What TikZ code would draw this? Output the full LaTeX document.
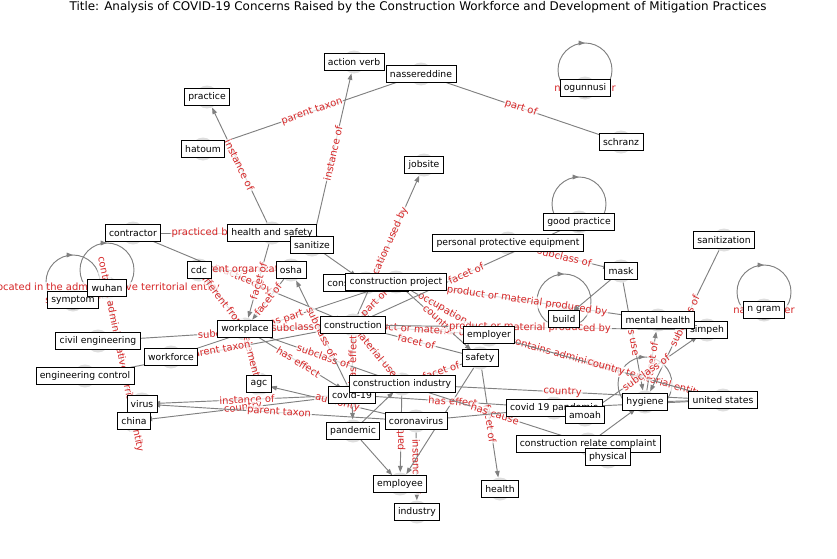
\documentclass[tikz,border=0pt]{standalone}
\usepackage{fontspec}
\setmainfont{DejaVu Sans}
\usetikzlibrary{arrows.meta, backgrounds, calc, decorations.markings, positioning}
\definecolor{labred}{RGB}{214,39,40}
\definecolor{edgegray}{RGB}{128,128,128}
\definecolor{dotgray}{RGB}{222,222,222}

\begin{document}
\begin{tikzpicture}[x=0.03cm, y=-0.03cm, >={Triangle[length=5.5pt,width=4pt]},
	box/.style={draw, rectangle, fill=white, line width=0.6pt, inner xsep=3.3pt, inner ysep=0pt, minimum height=15pt, font=\fontsize{7.9}{9}\selectfont},
	rel/.style={->, draw=edgegray, line width=0.8pt, shorten >=10pt, shorten <=10pt},
	tag/.style={font=\fontsize{8.5}{9}\selectfont, text=labred, fill=white, fill opacity=0.75, text opacity=1, inner sep=0.8pt, rounded corners=2pt},
	lab/.style={tag, midway, sloped},
	selfloop/.style={draw=edgegray, line width=0.8pt, postaction={decorate}, decoration={markings, mark=at position 0.5 with {\arrow{Triangle[length=5.5pt,width=4pt]}}}}]
	\useasboundingbox (0,0) rectangle (837,559);
	
	\node[font=\fontsize{10.2}{12}\selectfont] (title) at (418,7) {Title: Analysis of COVID-19 Concerns Raised by the Construction Workforce and Development of Mitigation Practices};
	
	% Nodes
	\node[box] (actionverb) at (354,62) {action verb};
	\node[box] (nassereddine) at (421,74) {nassereddine};
	\node[box] (ogunnusi) at (585,88) {ogunnusi};
	\node[box] (practice) at (207,97) {practice};
	\node[box] (hatoum) at (203,149) {hatoum};
	\node[box] (schranz) at (621,142) {schranz};
	\node[box] (jobsite) at (424,165) {jobsite};
	\node[box] (goodpractice) at (579,222) {good practice};
	\node[box] (contractor) at (133,233) {contractor};
	\node[box] (healthsafety) at (272,233) {health and safety};
	\node[box] (sanitization) at (724,240) {sanitization};
	\node[box] (ppe) at (508,243) {personal protective equipment};
	\node[box] (sanitize) at (312,245) {sanitize};
	\node[box] (cdc) at (199,270) {cdc};
	\node[box] (osha) at (291,270) {osha};
	\node[box] (mask) at (621,271) {mask};
	\node[box] (constsite) at (366,283) {construction site};
	\node[box] (constproject) at (396,282) {construction project};
	\node[box] (symptom) at (73,300) {symptom};
	\node[box] (wuhan) at (107,288) {wuhan};
	\node[box] (ngram) at (764,310) {n gram};
	\node[box] (build) at (564,319) {build};
	\node[box] (simpeh) at (707,330) {simpeh};
	\node[box] (mentalhealth) at (658,320) {mental health};
	\node[box] (civileng) at (98,341) {civil engineering};
	\node[box] (workplace) at (245,329) {workplace};
	\node[box] (construction) at (353,325) {construction};
	\node[box] (safety) at (480,358) {safety};
	\node[box] (employer) at (489,335) {employer};
	\node[box] (workforce) at (171,357) {workforce};
	\node[box] (engcontrol) at (85,376) {engineering control};
	\node[box] (agc) at (259,384) {agc};
	\node[box] (covid19) at (352,395) {covid-19};
	\node[box] (constindustry) at (402,384) {construction industry};
	\node[box] (virus) at (142,404) {virus};
	\node[box] (covidpandemic) at (554,408) {covid 19 pandemic};
	\node[box] (amoah) at (585,415) {amoah};
	\node[box] (hygiene) at (645,402) {hygiene};
	\node[box] (unitedstates) at (723,400) {united states};
	\node[box] (china) at (134,421) {china};
	\node[box] (coronavirus) at (416,421) {coronavirus};
	\node[box] (pandemic) at (353,431) {pandemic};
	\node[box] (complaint) at (588,444) {construction relate complaint};
	\node[box] (physical) at (608,457) {physical};
	\node[box] (employee) at (400,484) {employee};
	\node[box] (health) at (500,489) {health};
	\node[box] (industry) at (417,512) {industry};
	
	\begin{scope}[on background layer]
		\foreach \n in {actionverb,nassereddine,ogunnusi,practice,hatoum,schranz,jobsite,goodpractice,contractor,healthsafety,sanitization,ppe,sanitize,cdc,osha,mask,constsite,constproject,symptom,wuhan,ngram,build,simpeh,mentalhealth,civileng,workplace,construction,safety,employer,workforce,engcontrol,agc,covid19,constindustry,virus,covidpandemic,amoah,hygiene,unitedstates,china,coronavirus,pandemic,complaint,physical,employee,health,industry}
		\fill[dotgray] (\n.center) circle[radius=11.5];
		
		% Self loops
		\foreach \n in {ogunnusi,goodpractice,build,hygiene,ngram,symptom,wuhan}
		\draw[selfloop] ($(\n.center)+(0,9)$) arc[start angle=90, end angle=450, radius=27];
		\node[tag] at (ogunnusi.center) {named after};
		\node[tag] at (ngram.center) {named after};
		\node[tag] at (symptom.center) {subclass of};
		\node[tag] at (wuhan.center) {located in the administrative territorial entity};
		
		% Arrows
		\draw[rel] (hatoum.center) -- node[lab] {parent taxon} (nassereddine.center);
		\draw[rel] (nassereddine.center) -- node[lab] {part of} (schranz.center);
		\draw[rel] (healthsafety.center) -- node[lab] {instance of} (practice.center);
		\draw[rel] (sanitize.center) -- node[lab] {instance of} (actionverb.center);
		\draw[rel] (construction.center) -- node[lab] {location used by} (jobsite.center);
		\draw[rel] (contractor.center) -- node[lab] {practiced by} (healthsafety.center);
		\draw[rel] (contractor.center) -- node[lab] {practiced by} (construction.center);
		\draw[rel] (osha.center) -- node[lab] {parent organization} (cdc.center);
		\draw[rel] (healthsafety.center) -- node[lab] {facet of} (workplace.center);
		\draw[rel] (osha.center) -- node[lab] {facet of} (workplace.center);
		\draw[rel] (workplace.center) -- node[lab] {different from} (cdc.center);
		\draw[rel] (workplace.center) -- node[lab] {element} (agc.center);
		\draw[rel] (civileng.center) -- node[lab] {subclass of} (construction.center);
		\draw[rel] (engcontrol.center) -- node[lab] {parent taxon} (construction.center);
		\draw[rel] (workforce.center) -- node[lab] {has part} (constproject.center);
		\draw[rel] (workplace.center) -- node[lab] {subclass of} (construction.center);
		\draw[rel] (china.center) -- node[lab] {contains administrative territorial entity} (wuhan.center);
		\draw[rel] (construction.center) -- node[lab] {facet of} (safety.center);
		\draw[rel] (construction.center) -- node[lab] {product or material used} (employer.center);
		\draw[rel] (constproject.center) -- node[lab] {occupation} (employer.center);
		\draw[rel] (constproject.center) -- node[lab] {country} (safety.center);
		\draw[rel] (covid19.center) -- node[lab] {has effect} (construction.center);
		\draw[rel] (construction.center) -- node[lab] {material used} (constindustry.center);
		\draw[rel] (constproject.center) -- node[lab] {part of} (construction.center);
		\draw[rel] (workplace.center) -- node[lab] {has effect} (covid19.center);
		\draw[rel] (workplace.center) -- node[lab] {subclass of} (constindustry.center);
		\draw[rel] (covid19.center) -- node[lab] {subclass of} (osha.center);
		\draw[rel] (goodpractice.center) -- node[lab] {facet of} (construction.center);
		\draw[rel] (constproject.center) -- node[lab] {product or material produced by} (mentalhealth.center);
		\draw[rel] (construction.center) -- node[lab] {product or material produced by} (simpeh.center);
		\draw[rel] (sanitize.center) -- (constsite.center);
		\draw[rel] (covid19.center) -- node[lab] {instance of} (virus.center);
		\draw[rel] (covid19.center) -- node[lab] {country} (china.center);
		\draw[rel] (coronavirus.center) -- node[lab] {parent taxon} (virus.center);
		\draw[rel] (coronavirus.center) -- node[lab] {authority} (agc.center);
		\draw[rel] (covid19.center) -- (pandemic.center);
		\draw[rel] (pandemic.center) -- (employee.center);
		\draw[rel] (pandemic.center) -- (constindustry.center);
		\draw[rel] (coronavirus.center) -- node[lab] {instance of} (industry.center);
		\draw[rel] (constindustry.center) -- node[lab] {part of} (employee.center);
		\draw[rel] (safety.center) -- (employee.center);
		\draw[rel] (constindustry.center) -- node[lab] {country} (unitedstates.center);
		\draw[rel] (unitedstates.center) -- node[lab] {contains administrative territorial entity} (employer.center);
		\draw[rel] (employer.center) -- node[lab] {country} (unitedstates.center);
		\draw[rel] (safety.center) -- node[lab] {facet of} (health.center);
		\draw[rel] (constindustry.center) -- node[lab] {facet of} (safety.center);
		\draw[rel] (covid19.center) -- node[lab] {has effect} (covidpandemic.center);
		\draw[rel] (constindustry.center) -- node[lab] {has cause} (complaint.center);
		\draw[rel] (ppe.center) -- node[lab] {subclass of} (mask.center);
		\draw[rel] (mask.center) -- (build.center);
		\draw[rel] (mask.center) -- node[lab] {has use} (hygiene.center);
		\draw[rel] (hygiene.center) -- node[lab] {facet of} (mentalhealth.center);
		\draw[rel] (sanitization.center) -- node[lab] {subclass of} (hygiene.center);
		\draw[rel] (amoah.center) -- node[lab] {subclass of} (simpeh.center);
		\draw[rel] (complaint.center) -- (hygiene.center);
		\draw[rel] (covidpandemic.center) -- (unitedstates.center);
		\draw[rel] (hygiene.center) -- (unitedstates.center);
		\draw[rel] (coronavirus.center) -- (covidpandemic.center);
	\end{scope}
\end{tikzpicture}
\end{document}
